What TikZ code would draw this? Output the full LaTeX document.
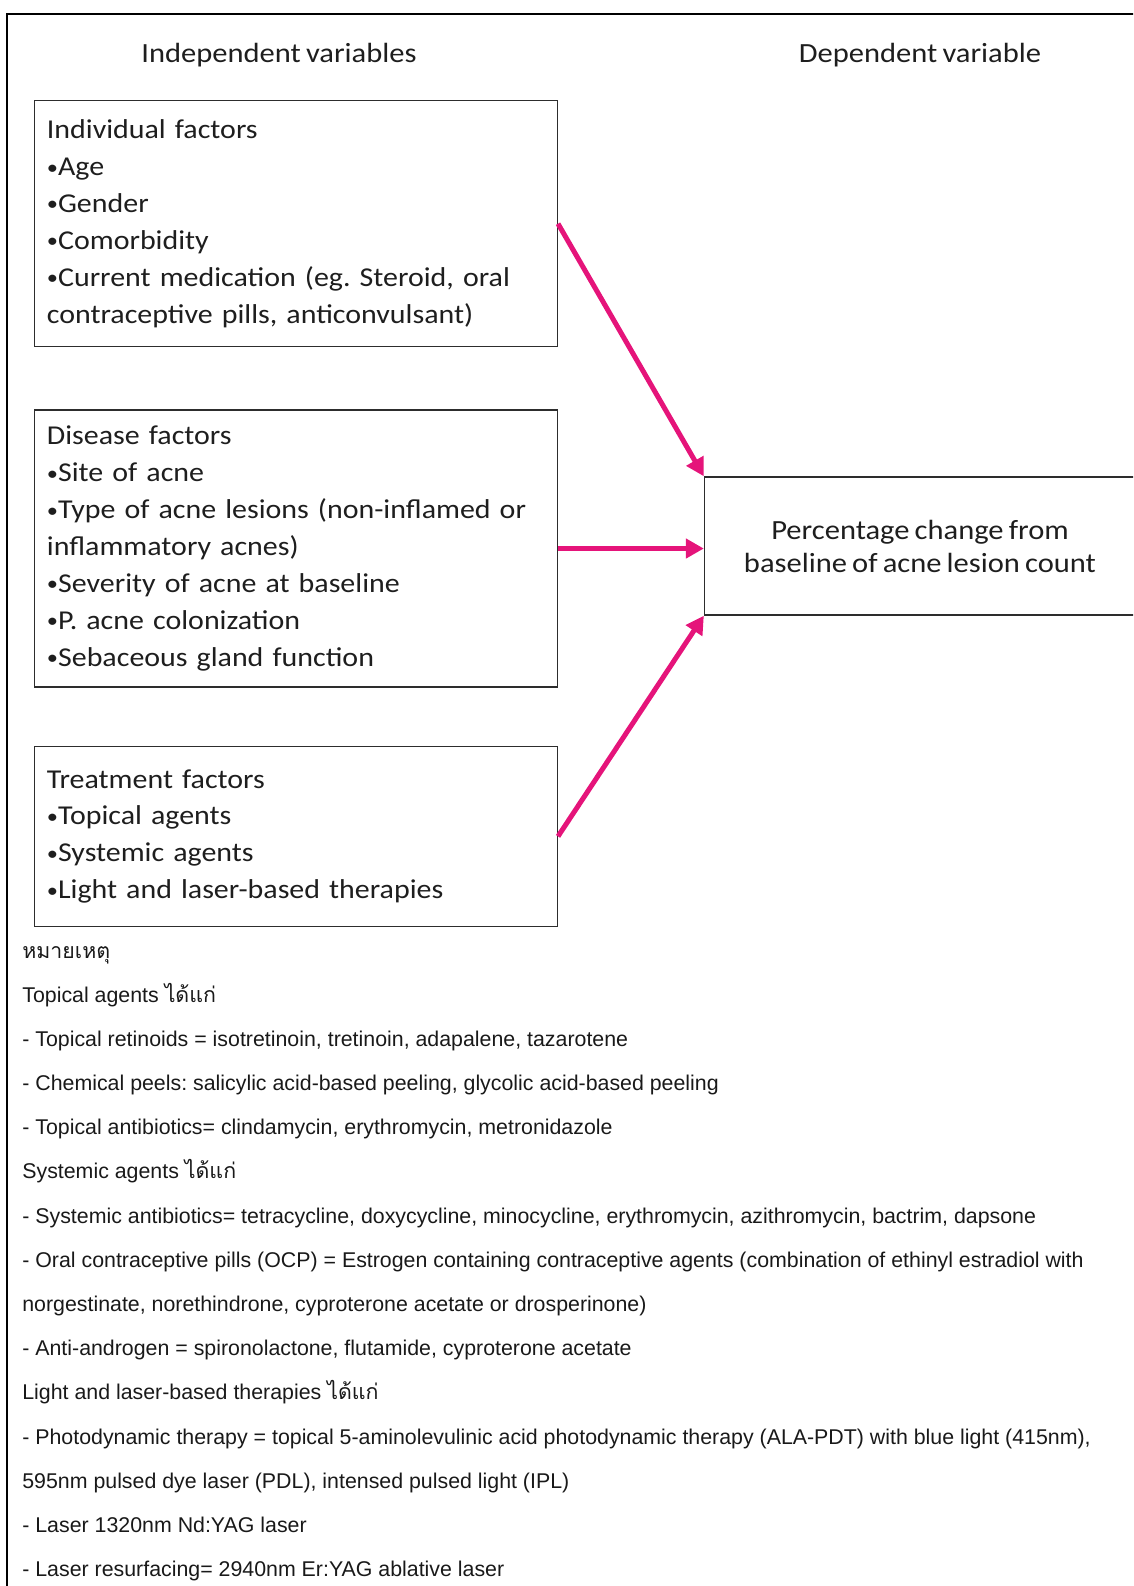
\documentclass[tikz,border=0pt]{standalone}
\usepackage{fontspec}
\usepackage{graphicx}
\setmainfont{Carlito}[FakeStretch=1.1, WordSpace=0.75]
\newfontfamily\notefont{Liberation Sans}
\newfontfamily\thaifont[Script=Thai]{Loma}
\usetikzlibrary{arrows.meta,positioning}
\frenchspacing

\definecolor{arrowpink}{RGB}{229,20,122}
\definecolor{boxline}{RGB}{45,45,45}
\definecolor{boxtext}{RGB}{30,30,30}

% small bullet as in the boxes
\newcommand{\bul}{\raisebox{0.12ex}{\scalebox{0.75}{•}}}

\begin{document}
\begin{tikzpicture}[
    x=0.02cm, y=-0.02cm,
    % Independent variables (left column)
    factor/.style={rectangle, draw=boxline, line width=0.8pt, anchor=north west,
        text width=9.96cm, inner xsep=0.25cm, inner ysep=0.1cm, align=left,
        font=\fontsize{15.5}{21}\selectfont, text=boxtext},
    % Dependent variable
    outcome/.style={rectangle, draw=boxline, line width=0.8pt,
        minimum width=8.62cm, minimum height=2.76cm, align=center,
        font=\fontsize{15.8}{18.8}\selectfont, text=boxtext},
    heading/.style={font=\fontsize{15.8}{18}\selectfont, text=boxtext},
    % Notes under the diagram
    note/.style={anchor=west, inner sep=0pt, text height=0.3cm, text depth=0.1cm,
        font=\notefont\fontsize{12.15}{14}\selectfont, text=black!90},
    arrow/.style={-{Triangle[length=0.36cm, width=0.38cm]}, line width=0.1cm, draw=arrowpink}
]
    \clip (0,0) rectangle (1133,1586);

    % Frame (cut at right and bottom)
    \draw[line width=1.15pt] (7,1600) -- (7,14) -- (1140,14);

    % Column headings
    \node[heading] (indep) at (279,55) {Independent variables};

    % Factor boxes
    \node[factor, minimum height=4.92cm] (individual) at (33.7,100) {Individual factors\\
        \bul Age\\
        \bul Gender\\
        \bul Comorbidity\\
        \bul Current medication (eg. Steroid, oral\\
        contraceptive pills, anticonvulsant)};
    \node[factor, minimum height=5.54cm, below=1.24cm of individual.south west, anchor=north west] (disease) {Disease factors\\
        \bul Site of acne\\
        \bul Type of acne lesions (non-inflamed or\\
        inflammatory acnes)\\
        \bul Severity of acne at baseline\\
        \bul P. acne colonization\\
        \bul Sebaceous gland function};
    \node[factor, minimum height=3.6cm, below=1.16cm of disease.south west, anchor=north west] (treatment) {Treatment factors\\
        \bul Topical agents\\
        \bul Systemic agents\\
        \bul Light and laser-based therapies};

    % Outcome box
    \node[outcome] (change) at (920,546) {Percentage change from\\baseline of acne lesion count};
    \node[heading] (dep) at (change |- indep) {Dependent variable};

    % Arrows
    \draw[arrow] (individual.east) -- (change.north west);
    \draw[arrow] (disease.east) -- (disease.east -| change.west);
    \draw[arrow] (treatment.east) -- (change.south west);

    % Notes
    \node[note] (n1) at (22,953) {\thaifont หมายเหตุ};
    \node[note, below=0.884cm of n1.west, anchor=west] (n2) {Topical agents {\thaifont ได้แก่}};
    \node[note, below=0.884cm of n2.west, anchor=west] (n3) {- Topical retinoids = isotretinoin, tretinoin, adapalene, tazarotene};
    \node[note, below=0.884cm of n3.west, anchor=west] (n4) {- Chemical peels: salicylic acid-based peeling, glycolic acid-based peeling};
    \node[note, below=0.884cm of n4.west, anchor=west] (n5) {- Topical antibiotics= clindamycin, erythromycin, metronidazole};
    \node[note, below=0.884cm of n5.west, anchor=west] (n6) {Systemic agents {\thaifont ได้แก่}};
    \node[note, below=0.884cm of n6.west, anchor=west] (n7) {- Systemic antibiotics= tetracycline, doxycycline, minocycline, erythromycin, azithromycin, bactrim, dapsone};
    \node[note, below=0.884cm of n7.west, anchor=west] (n8) {- Oral contraceptive pills (OCP) = Estrogen containing contraceptive agents (combination of ethinyl estradiol with};
    \node[note, below=0.884cm of n8.west, anchor=west] (n9) {norgestinate, norethindrone, cyproterone acetate or drosperinone)};
    \node[note, below=0.884cm of n9.west, anchor=west] (n10) {- Anti-androgen = spironolactone, flutamide, cyproterone acetate};
    \node[note, below=0.884cm of n10.west, anchor=west] (n11) {Light and laser-based therapies {\thaifont ได้แก่}};
    \node[note, below=0.884cm of n11.west, anchor=west] (n12) {- Photodynamic therapy = topical 5-aminolevulinic acid photodynamic therapy (ALA-PDT) with blue light (415nm),};
    \node[note, below=0.884cm of n12.west, anchor=west] (n13) {595nm pulsed dye laser (PDL), intensed pulsed light (IPL)};
    \node[note, below=0.884cm of n13.west, anchor=west] (n14) {- Laser 1320nm Nd:YAG laser};
    \node[note, below=0.884cm of n14.west, anchor=west] (n15) {- Laser resurfacing= 2940nm Er:YAG ablative laser};
\end{tikzpicture}
\end{document}
